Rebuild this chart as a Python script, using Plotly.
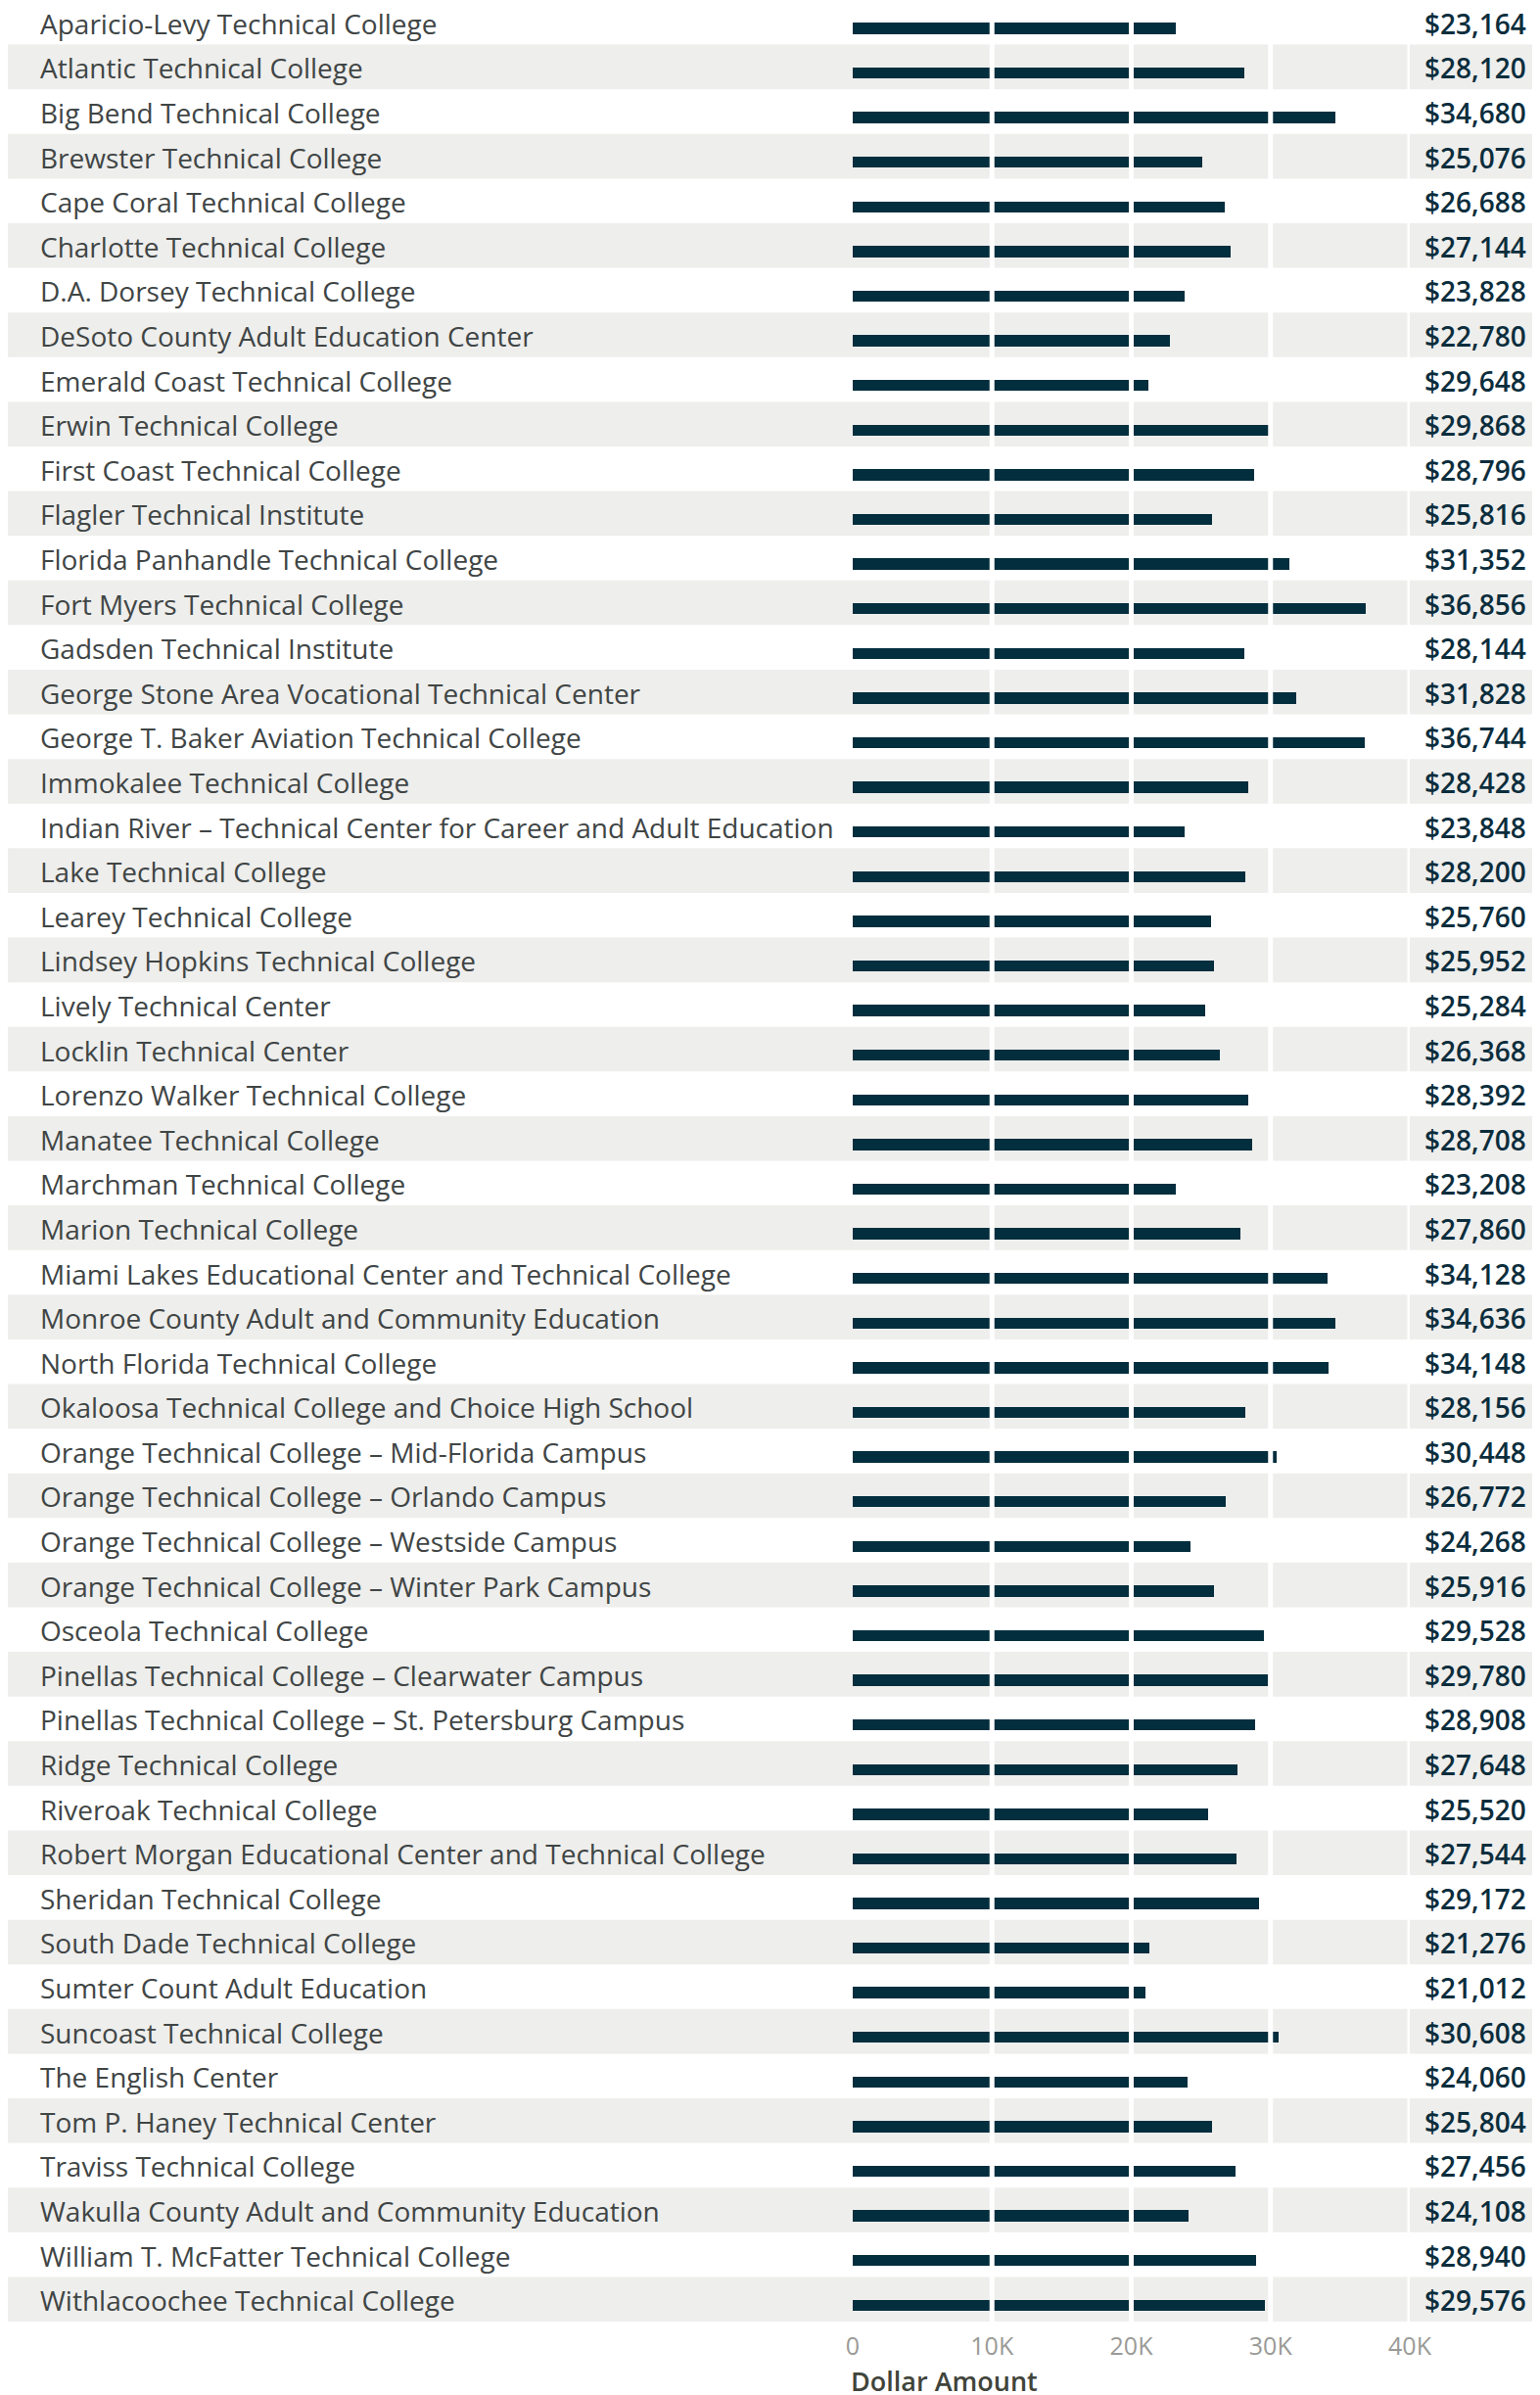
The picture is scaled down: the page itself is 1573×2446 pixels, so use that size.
import plotly.graph_objects as go

colleges = [
    "Aparicio-Levy Technical College",
    "Atlantic Technical College",
    "Big Bend Technical College",
    "Brewster Technical College",
    "Cape Coral Technical College",
    "Charlotte Technical College",
    "D.A. Dorsey Technical College",
    "DeSoto County Adult Education Center",
    "Emerald Coast Technical College",
    "Erwin Technical College",
    "First Coast Technical College",
    "Flagler Technical Institute",
    "Florida Panhandle Technical College",
    "Fort Myers Technical College",
    "Gadsden Technical Institute",
    "George Stone Area Vocational Technical Center",
    "George T. Baker Aviation Technical College",
    "Immokalee Technical College",
    "Indian River \u2013 Technical Center for Career and Adult Education",
    "Lake Technical College",
    "Learey Technical College",
    "Lindsey Hopkins Technical College",
    "Lively Technical Center",
    "Locklin Technical Center",
    "Lorenzo Walker Technical College",
    "Manatee Technical College",
    "Marchman Technical College",
    "Marion Technical College",
    "Miami Lakes Educational Center and Technical College",
    "Monroe County Adult and Community Education",
    "North Florida Technical College",
    "Okaloosa Technical College and Choice High School",
    "Orange Technical College \u2013 Mid-Florida Campus",
    "Orange Technical College \u2013 Orlando Campus",
    "Orange Technical College \u2013 Westside Campus",
    "Orange Technical College \u2013 Winter Park Campus",
    "Osceola Technical College",
    "Pinellas Technical College \u2013 Clearwater Campus",
    "Pinellas Technical College \u2013 St. Petersburg Campus",
    "Ridge Technical College",
    "Riveroak Technical College",
    "Robert Morgan Educational Center and Technical College",
    "Sheridan Technical College",
    "South Dade Technical College",
    "Sumter Count Adult Education",
    "Suncoast Technical College",
    "The English Center",
    "Tom P. Haney Technical Center",
    "Traviss Technical College",
    "Wakulla County Adult and Community Education",
    "William T. McFatter Technical College",
    "Withlacoochee Technical College",
]

# Printed dollar amounts (right-hand labels)
label_amounts = [
    23164, 28120, 34680, 25076, 26688, 27144, 23828, 22780, 29648, 29868,
    28796, 25816, 31352, 36856, 28144, 31828, 36744, 28428, 23848, 28200,
    25760, 25952, 25284, 26368, 28392, 28708, 23208, 27860, 34128, 34636,
    34148, 28156, 30448, 26772, 24268, 25916, 29528, 29780, 28908, 27648,
    25520, 27544, 29172, 21276, 21012, 30608, 24060, 25804, 27456, 24108,
    28940, 29576,
]

# Bar lengths as drawn (Emerald Coast bar is drawn shorter than its label)
bar_amounts = [
    23164, 28120, 34680, 25076, 26688, 27144, 23828, 22780, 21200, 29868,
    28796, 25816, 31352, 36856, 28144, 31828, 36744, 28428, 23848, 28200,
    25760, 25952, 25284, 26368, 28392, 28708, 23208, 27860, 34128, 34636,
    34148, 28156, 30448, 26772, 24268, 25916, 29528, 29780, 28908, 27648,
    25520, 27544, 29172, 21276, 21012, 30608, 24060, 25804, 27456, 24108,
    28940, 29576,
]

tick_values = [0, 10000, 20000, 30000, 40000]
tick_labels = ["0", "10K", "20K", "30K", "40K"]

W, H = 1573, 2446
ML, MR, MT, MB = 863, 141, 0, 83
PW = W - ML - MR

n = len(colleges)
fig = go.Figure()
fig.add_trace(go.Bar(
    x=bar_amounts,
    y=list(range(n)),
    orientation="h",
    marker=dict(color="#022e3e", line=dict(width=0)),
    width=0.25,
    offset=0.01,
    hoverinfo="skip",
))

shapes = []
for i in range(n):
    if i % 2 == 1:
        shapes.append(dict(
            type="rect", xref="paper", yref="y",
            x0=(-6 - ML) / PW, x1=(1561 - ML) / PW,
            y0=i - 0.5, y1=i + 0.5,
            fillcolor="#eeeeec", line=dict(width=0), layer="below",
        ))
for tv in tick_values[1:]:
    shapes.append(dict(
        type="line", xref="x", yref="paper",
        x0=tv, x1=tv, y0=0, y1=1,
        line=dict(color="white", width=5), layer="above",
    ))

name_font = dict(family="Open Sans", size=28, color="#404545")
value_font = dict(family="Open Sans", size=28, color="#0b2d3c", weight=600)

annotations = []
for i, (name, amt) in enumerate(zip(colleges, label_amounts)):
    annotations.append(dict(
        xref="paper", yref="y", x=(31 - ML) / PW, y=i,
        text=name, showarrow=False, xanchor="left", yanchor="middle",
        yshift=-1, font=name_font,
    ))
    annotations.append(dict(
        xref="paper", yref="y", x=(1553 - ML) / PW, y=i,
        text="${:,}".format(amt), showarrow=False, xanchor="right", yanchor="middle",
        yshift=-1, font=value_font,
    ))
annotations.append(dict(
    xref="paper", yref="paper", x=(859 - ML) / PW, y=0, yshift=-60,
    text="Dollar Amount", showarrow=False, xanchor="left", yanchor="middle",
    font=dict(family="Open Sans", size=27, color="#40443a", weight=600),
))

fig.update_layout(
    width=W, height=H,
    margin=dict(l=ML, r=MR, t=MT, b=MB, pad=0),
    paper_bgcolor="white", plot_bgcolor="rgba(0,0,0,0)",
    showlegend=False,
    bargap=0,
    shapes=shapes,
    annotations=annotations,
    xaxis=dict(
        range=[0, 40000], tickvals=tick_values, ticktext=tick_labels,
        showgrid=False, zeroline=False, showline=False, ticks="",
        ticklabelstandoff=8,
        tickfont=dict(family="Open Sans", size=25, color="#9a9a96"),
        fixedrange=True,
    ),
    yaxis=dict(
        range=[n - 0.5, -0.325], showticklabels=False, showgrid=False,
        zeroline=False, showline=False, ticks="", fixedrange=True,
    ),
)

fig.write_html("out.html")
